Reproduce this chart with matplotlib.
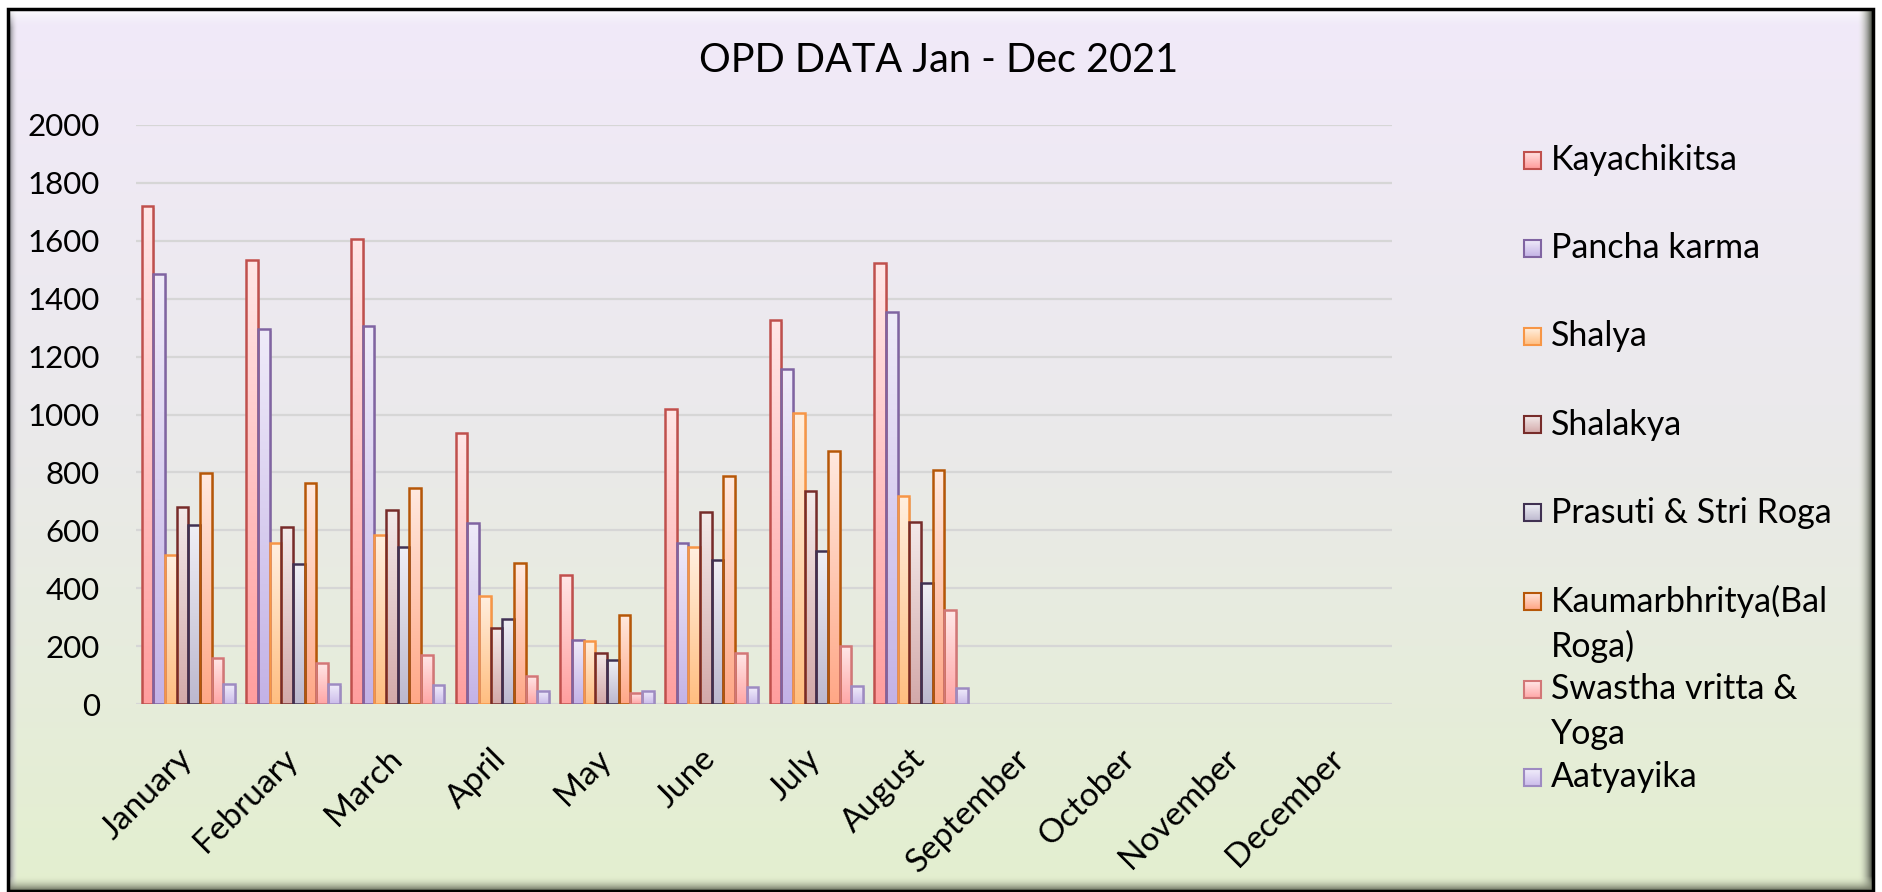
import textwrap
import numpy as np
import matplotlib.pyplot as plt
from matplotlib.colors import LinearSegmentedColormap
from matplotlib.patches import Rectangle
import matplotlib.transforms as mtransforms

plt.rcParams['font.family'] = ['Lato', 'DejaVu Sans']

# months on the axis (data only up to August)
months = ['January', 'February', 'March', 'April', 'May', 'June', 'July',
          'August', 'September', 'October', 'November', 'December']

# OPD counts per department, Jan - Aug 2021
kayachikitsa = [1720, 1535, 1605, 935, 446, 1020, 1325, 1523]
pancha_karma = [1485, 1295, 1307, 625, 220, 557, 1156, 1355]
shalya = [513, 555, 584, 373, 219, 541, 1004, 718]
shalakya = [680, 610, 670, 261, 177, 662, 737, 628]
prasuti = [618, 484, 542, 295, 151, 499, 528, 419]
kaumarbhritya = [797, 764, 745, 487, 307, 789, 874, 807]
swastha = [160, 143, 170, 97, 39, 177, 199, 324]
aatyayika = [69, 69, 65, 46, 45, 58, 61, 54]

series_names = ['Kayachikitsa', 'Pancha karma', 'Shalya', 'Shalakya',
                'Prasuti & Stri Roga', 'Kaumarbhritya(Bal Roga)',
                'Swastha vritta & Yoga', 'Aatyayika']
series_vals = [kayachikitsa, pancha_karma, shalya, shalakya, prasuti,
               kaumarbhritya, swastha, aatyayika]

# (edge, top of gradient, bottom of gradient)
styles = [
    ('#C0504D', '#FFE6E6', '#FF9E9E'),
    ('#8064A2', '#EFEBF9', '#C3B2E6'),
    ('#F79646', '#FFEFDF', '#FFBE80'),
    ('#772C2A', '#F3E9E9', '#D3A9A9'),
    ('#403152', '#EFEFF5', '#BCB8CE'),
    ('#B65708', '#FFE9DF', '#FFA786'),
    ('#D27777', '#FFE8E8', '#FFA6A6'),
    ('#9E8BC2', '#F1EDFB', '#CBBCEA'),
]

W, H = 1882, 892
fig = plt.figure(figsize=(W / 100, H / 100), dpi=100, facecolor='white')

# ---- background panel with bevelled frame (pixel coordinates) ----
bg = fig.add_axes([0, 0, 1, 1])
bg.set_xlim(0, W)
bg.set_ylim(H, 0)
bg.axis('off')

x0, x1, y0, y1 = 9, 1872, 10, 890
panel_cmap = LinearSegmentedColormap.from_list(
    'panel', [(0, '#F1E9F9'), (0.45, '#EBE9EC'), (1, '#E3EFCF')])
bg.imshow(np.linspace(0, 1, 256).reshape(-1, 1), cmap=panel_cmap,
          extent=[x0, x1, y1, y0], origin='upper', aspect='auto', zorder=0)

# bevel strips
def strip(ext, c_from, c_to, horizontal, z=1):
    g = np.linspace(0, 1, 64)
    g = g.reshape(1, -1) if horizontal else g.reshape(-1, 1)
    cm = LinearSegmentedColormap.from_list('s', [c_from, c_to])
    bg.imshow(g, cmap=cm, extent=ext, origin='upper', aspect='auto', zorder=z)

strip([x0, x0 + 9, y1, y0], (0.45, 0.45, 0.47, 1), (0.92, 0.90, 0.94, 0), True)
strip([x0, x1, y0 + 18, y0], (1, 1, 1, 0.9), (0.95, 0.93, 0.98, 0), False)
strip([x1 - 14, x1, y1, y0], (0.88, 0.90, 0.82, 0), (0.30, 0.32, 0.28, 1), True)
strip([x0, x1, y1, y1 - 14], (0.88, 0.92, 0.80, 0), (0.45, 0.47, 0.40, 1), False)
bg.add_patch(Rectangle((x0 - 1, y0 - 1), x1 - x0 + 2, y1 - y0 + 2,
                       fill=False, edgecolor='black', lw=2.5, zorder=3))

# title
bg.text(939, 72, 'OPD DATA Jan - Dec 2021', ha='center', va='baseline',
        fontsize=28.5, color='black', zorder=4)

# legend drawn as a column of gradient swatches
for i, (name, (edge, top, bottom)) in enumerate(zip(series_names, styles)):
    yc = 160 + i * 88.2
    strip([1524, 1541, yc + 8.5, yc - 8.5], top, bottom, False, z=4)
    bg.add_patch(Rectangle((1524, yc - 8.5), 17, 17, fill=False,
                           edgecolor=edge, lw=1.5, zorder=5))
    for k, line in enumerate(textwrap.wrap(name, 19)):
        bg.text(1551, yc + k * 45, line, ha='left', va='center',
                fontsize=24.5, color='black', zorder=4)

# ---- bar chart ----
ax = fig.add_axes([136 / W, 188 / H, 1256 / W, 579 / H])
ax.patch.set_alpha(0)
for s in ax.spines.values():
    s.set_visible(False)

n = len(series_vals)
width = 1 / (n + 1)
shadow_tr = mtransforms.offset_copy(ax.transData, fig=fig, x=2, y=-2, units='dots')
for i, (vals, (edge, top, bottom)) in enumerate(zip(series_vals, styles)):
    xs = np.arange(len(vals)) + (i - (n - 1) / 2) * width
    # soft drop shadow
    ax.bar(xs, vals, width, color=(0.3, 0.3, 0.3, 0.18), lw=0,
           transform=shadow_tr, zorder=1.5)
    bars = ax.bar(xs, vals, width, facecolor='none', edgecolor=edge,
                  lw=1.8, zorder=3, label=series_names[i])
    cm = LinearSegmentedColormap.from_list('b%d' % i, [bottom, top])
    for r in bars:
        ax.imshow(np.linspace(0, 1, 128).reshape(-1, 1), cmap=cm,
                  extent=[r.get_x(), r.get_x() + r.get_width(), 0, r.get_height()],
                  origin='lower', aspect='auto', zorder=2)

ax.set_xlim(-0.5, len(months) - 0.5)
ax.set_ylim(0, 2000)
ax.set_yticks(np.arange(0, 2001, 200))
ax.grid(axis='y', color='#D6D6D6', lw=1.6, zorder=0)
ax.set_axisbelow(True)
ax.tick_params(axis='both', length=0, labelsize=22.5, colors='black')
ax.tick_params(axis='y', pad=26)
ax.set_xticks(np.arange(len(months)))
ax.set_xticklabels(months, rotation=45, ha='right', va='top',
                   rotation_mode='anchor', fontsize=24)
ax.tick_params(axis='x', pad=28.5)
shift = mtransforms.ScaledTranslation(-0.11, 0, fig.dpi_scale_trans)
for lbl in ax.get_xticklabels():
    lbl.set_transform(lbl.get_transform() + shift)

fig.savefig('out.png', dpi=100, facecolor='white')
